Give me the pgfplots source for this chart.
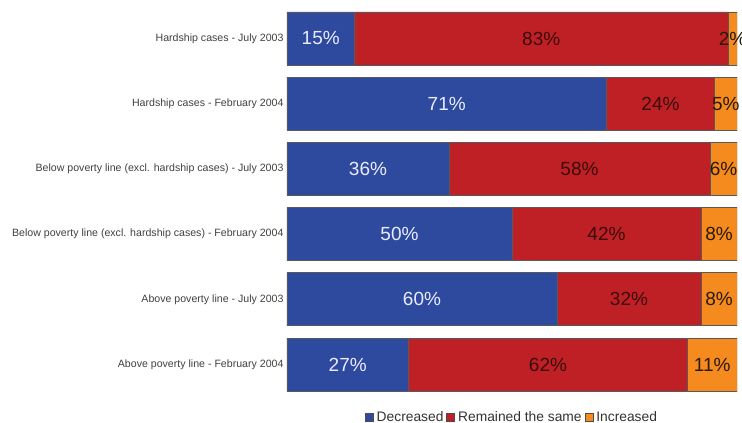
\documentclass[border=0pt]{standalone}
\usepackage{pgfplots}
\pgfplotsset{compat=1.18}
\usepackage{pgfplotstable}
\usepackage{fontspec}
\setmainfont{Liberation Sans}
\definecolor{cblue}{HTML}{2E4A9F}
\definecolor{cred}{HTML}{BF2025}
\definecolor{corange}{HTML}{F58A1F}
\definecolor{cdarkred}{HTML}{3A0C0C}
\definecolor{cdarkor}{HTML}{2A1A08}
\pgfplotstableread{
idx dec same inc
0 15 83 2
1 71 24 5
2 36 58 6
3 50 42 8
4 60 32 8
5 27 62 11
}\data
\pgfplotsset{
  common/.style={
    at={(287pt,32pt)}, anchor=south west,
    scale only axis, width=450pt, height=379pt,
    xmin=0, xmax=100, ymin=-0.406, ymax=5.406, y dir=reverse,
    xtick=\empty, major tick length=0pt,
    axis line style={draw=none},
  }
}
\begin{document}
\begin{tikzpicture}
\path[use as bounding box] (0,0) rectangle (742pt,423pt);
\begin{axis}[
  common,
  xbar stacked, bar width=53pt,
  ytick={0,...,5},
  yticklabels={Hardship cases - July 2003, Hardship cases - February 2004, Below poverty line (excl. hardship cases) - July 2003, Below poverty line (excl. hardship cases) - February 2004, Above poverty line - July 2003, Above poverty line - February 2004},
  yticklabel style={font=\fontsize{10.6}{12}\selectfont, text=black!75},
  legend style={at={(0.5,0)}, anchor=north, yshift=-16pt, draw=none, legend columns=-1, font=\fontsize{13.8}{15}\selectfont, text=black!80, /tikz/every even column/.append style={column sep=1pt}, /tikz/every odd column/.append style={column sep=1pt}},
  legend image code/.code={\draw[#1,draw=black!70] (0pt,-4pt) rectangle (8pt,4pt);},
]
\addplot[fill=cblue, draw=black!65, line width=0.7pt] table[x=dec, y=idx] {\data};
\addplot[fill=cred, draw=black!65, line width=0.7pt] table[x=same, y=idx] {\data};
\addplot[fill=corange, draw=black!65, line width=0.7pt] table[x=inc, y=idx] {\data};
\legend{Decreased, Remained the same, Increased}
\end{axis}
\begin{axis}[
  common, ytick=\empty,
  nodes near coords={\pgfplotspointmeta\%},
  point meta=explicit symbolic,
  every node near coord/.append style={anchor=center, font=\fontsize{19}{22}\selectfont},
]
\addplot[only marks, mark=none, every node near coord/.append style={text=white!92!blue}] table[x expr=\thisrow{dec}/2, y=idx, meta=dec] {\data};
\addplot[only marks, mark=none, every node near coord/.append style={text=cdarkred}] table[x expr=\thisrow{dec}+\thisrow{same}/2, y=idx, meta=same] {\data};
\addplot[only marks, mark=none, every node near coord/.append style={text=cdarkor}] table[x expr=100-\thisrow{inc}/2, y=idx, meta=inc] {\data};
\end{axis}
\end{tikzpicture}
\end{document}
